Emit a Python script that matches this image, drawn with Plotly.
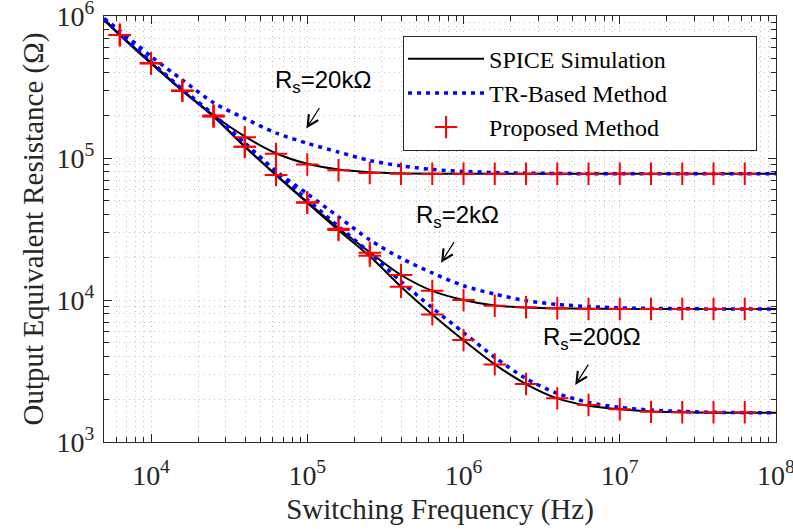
import math
import plotly.graph_objects as go

# ---------------- data ----------------
freq = [5000, 6310, 1.0e4, 1.585e4, 2.512e4, 3.981e4, 6.31e4, 1.0e5, 1.585e5, 2.512e5,
        3.981e5, 6.31e5, 1.0e6, 1.585e6, 2.512e6, 3.981e6, 6.31e6, 1.0e7, 1.585e7,
        2.512e7, 3.981e7, 6.31e7, 1.0e8]

spice_20k = [9.5e5, 7.4e5, 4.7e5, 3.0e5, 2.0e5, 1.42e5, 1.08e5, 9.1e4, 8.3e4, 7.95e4,
             7.8e4, 7.75e4, 7.75e4, 7.75e4, 7.75e4, 7.75e4, 7.75e4, 7.75e4, 7.75e4,
             7.75e4, 7.75e4, 7.75e4, 7.75e4]
spice_2k = [9.4e5, 7.35e5, 4.64e5, 2.98e5, 1.97e5, 1.21e5, 7.6e4, 4.9e4, 3.2e4, 2.17e4,
            1.5e4, 1.16e4, 1.0e4, 9.15e3, 8.85e3, 8.72e3, 8.68e3, 8.65e3, 8.65e3,
            8.65e3, 8.65e3, 8.65e3, 8.65e3]
spice_200 = [9.4e5, 7.35e5, 4.64e5, 2.98e5, 1.96e5, 1.2e5, 7.58e4, 4.84e4, 3.1e4, 2.03e4,
             1.24e4, 7.9e3, 5.2e3, 3.52e3, 2.56e3, 2.03e3, 1.8e3, 1.7e3, 1.64e3,
             1.62e3, 1.61e3, 1.61e3, 1.61e3]

tr_20k = [9.6e5, 7.9e5, 5.2e5, 3.55e5, 2.45e5, 1.9e5, 1.5e5, 1.27e5, 1.1e5, 9.6e4,
          8.8e4, 8.3e4, 8.05e4, 7.9e4, 7.82e4, 7.78e4, 7.75e4, 7.75e4, 7.75e4,
          7.75e4, 7.75e4, 7.75e4, 7.75e4]
tr_2k = [9.5e5, 7.5e5, 4.75e5, 3.05e5, 2.02e5, 1.28e5, 8.1e4, 5.6e4, 3.85e4, 2.65e4,
         1.97e4, 1.55e4, 1.26e4, 1.1e4, 9.9e3, 9.3e3, 9.0e3, 8.8e3, 8.72e3,
         8.68e3, 8.65e3, 8.65e3, 8.65e3]
tr_200 = [9.5e5, 7.5e5, 4.75e5, 3.04e5, 2.0e5, 1.26e5, 7.95e4, 5.1e4, 3.3e4, 2.15e4,
          1.35e4, 8.8e3, 5.9e3, 3.95e3, 2.8e3, 2.2e3, 1.9e3, 1.75e3, 1.68e3,
          1.64e3, 1.62e3, 1.61e3, 1.61e3]

freq_pts = [6310, 1.0e4, 1.585e4, 2.512e4, 3.981e4, 6.31e4, 1.0e5, 1.585e5, 2.512e5,
            3.981e5, 6.31e5, 1.0e6, 1.585e6, 2.512e6, 3.981e6, 6.31e6, 1.0e7, 1.585e7,
            2.512e7, 3.981e7, 6.31e7]
prop_20k = [7.35e5, 4.64e5, 2.98e5, 1.99e5, 1.40e5, 1.07e5, 9.0e4, 8.2e4, 7.85e4,
            7.75e4, 7.75e4, 7.75e4, 7.75e4, 7.75e4, 7.75e4, 7.75e4, 7.75e4, 7.75e4,
            7.75e4, 7.75e4, 7.75e4]
prop_2k = [7.35e5, 4.64e5, 2.98e5, 1.97e5, 1.2e5, 7.6e4, 4.88e4, 3.18e4, 2.15e4,
           1.5e4, 1.16e4, 1.0e4, 9.12e3, 8.9e3, 8.75e3, 8.65e3, 8.65e3, 8.65e3,
           8.65e3, 8.65e3, 8.65e3]
prop_200 = [7.35e5, 4.64e5, 2.98e5, 1.96e5, 1.2e5, 7.59e4, 4.84e4, 3.11e4, 2.05e4,
            1.24e4, 7.92e3, 5.22e3, 3.52e3, 2.56e3, 2.03e3, 1.82e3, 1.70e3, 1.63e3,
            1.62e3, 1.62e3, 1.62e3]

series_names = ["SPICE Simulation", "TR-Based Method", "Proposed Method"]

x_tick_vals = [1e4, 1e5, 1e6, 1e7, 1e8]
x_tick_text = ["10<sup>4</sup>", "10<sup>5</sup>", "10<sup>6</sup>", "10<sup>7</sup>", "10<sup>8</sup>"]
y_tick_vals = [1e3, 1e4, 1e5, 1e6]
y_tick_text = ["10<sup>3</sup>", "10<sup>4</sup>", "10<sup>5</sup>", "10<sup>6</sup>"]

labels = ["R<sub>s</sub>=20kΩ", "R<sub>s</sub>=2kΩ", "R<sub>s</sub>=200Ω"]

# ---------------- figure ----------------
SERIF = "Liberation Serif, Times New Roman, serif"
SANS = "Liberation Sans, Arial, Helvetica, sans-serif"
AXC = "#262626"

fig = go.Figure()

for i, ys in enumerate([spice_20k, spice_2k, spice_200]):
    fig.add_trace(go.Scatter(x=freq, y=ys, mode="lines", name=series_names[0],
                             line=dict(color="black", width=2, shape="spline", smoothing=0.8),
                             showlegend=(i == 0), legendgroup="spice"))
for i, ys in enumerate([tr_20k, tr_2k, tr_200]):
    fig.add_trace(go.Scatter(x=freq, y=ys, mode="lines", name=series_names[1],
                             line=dict(color="#0000ff", width=3.5, dash="4px,5px",
                                       shape="spline", smoothing=0.8),
                             showlegend=(i == 0), legendgroup="tr"))
for i, ys in enumerate([prop_20k, prop_2k, prop_200]):
    fig.add_trace(go.Scatter(x=freq_pts, y=ys, mode="markers", name=series_names[2],
                             marker=dict(symbol="cross-thin", size=16, color="#ff0000",
                                         line=dict(color="#ff0000", width=2)),
                             showlegend=(i == 0), legendgroup="prop"))

minor_vals = [k * 10 ** d for d in range(3, 8) for k in range(2, 10)]

grid_col = "rgba(100,100,100,0.4)"
common_axis = dict(
    type="log", showline=True, linecolor=AXC, linewidth=1.3, mirror="allticks",
    ticks="inside", ticklen=8, tickwidth=1, tickcolor=AXC,
    showgrid=True, gridcolor=grid_col, griddash="1px,4px", gridwidth=1,
    zeroline=False, ticklabeloverflow="allow", automargin=False,
    tickfont=dict(family=SERIF, size=28, color="#262626"),
    minor=dict(tickmode="array", tickvals=minor_vals, ticks="inside", ticklen=5,
               tickcolor=AXC, showgrid=True, gridcolor=grid_col, griddash="1px,4px",
               gridwidth=1),
)

fig.update_xaxes(**common_axis, range=[math.log10(5000), 8], tickmode="array",
                 tickvals=x_tick_vals, ticktext=x_tick_text, ticklabelstandoff=8,
                 title=dict(text="Switching Frequency (Hz)", standoff=8,
                            font=dict(family=SERIF, size=29, color="#262626")))
fig.update_yaxes(**common_axis, range=[3, 6], tickmode="array",
                 tickvals=y_tick_vals, ticktext=y_tick_text, ticklabelstandoff=3,
                 title=dict(text="Output Equivalent Resistance (Ω)", standoff=4,
                            font=dict(family=SERIF, size=29, color="#262626")))

# annotations (text labels + arrows), positions in log10 axis units
label_pos = [(5.103, 5.54), (5.959, 4.59), (6.824, 3.73)]
arrow_tip = [(4.994, 5.208), (5.856, 4.263), (6.715, 3.401)]
for (lx, ly), txt in zip(label_pos, labels):
    fig.add_annotation(x=lx, y=ly, xref="x", yref="y", text=txt, showarrow=False,
                       font=dict(family=SANS, size=24, color="black"),
                       xanchor="center", yanchor="middle")
for tx, ty in arrow_tip:
    fig.add_annotation(x=tx, y=ty, xref="x", yref="y", text="", showarrow=True,
                       ax=14, ay=-22, arrowhead=5, arrowsize=1.8, arrowwidth=1.2,
                       arrowcolor="black")

fig.update_layout(
    width=793, height=529,
    margin=dict(l=104, r=17, t=16, b=87),
    paper_bgcolor="white", plot_bgcolor="white",
    font=dict(family=SERIF, color="black"),
    legend=dict(x=0.445, y=0.954, xanchor="left", yanchor="top",
                orientation="h",
                bgcolor="white", bordercolor="#262626", borderwidth=1,
                font=dict(family=SERIF, size=24, color="black"),
                itemwidth=76, tracegroupgap=0,
                entrywidth=262, entrywidthmode="pixels"),
)

fig.write_html("out.html")
